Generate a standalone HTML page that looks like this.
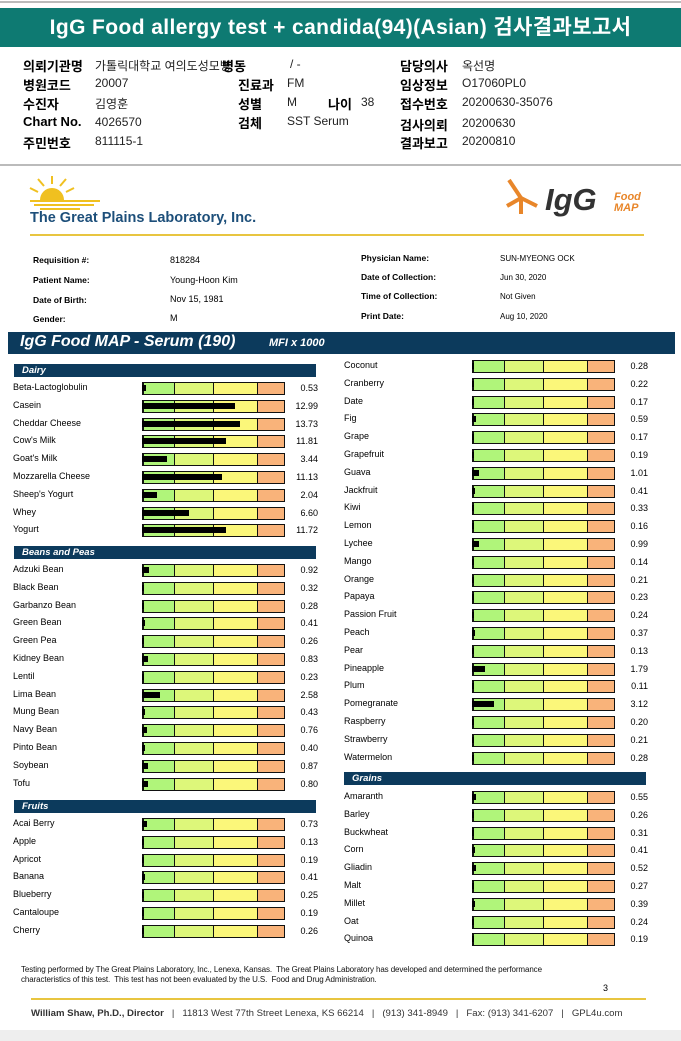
<!DOCTYPE html>
<html><head><meta charset="utf-8">
<style>
*{margin:0;padding:0;box-sizing:border-box}
body{width:681px;height:1041px;background:#fff;position:relative;overflow:hidden;font-family:"Liberation Sans",Arial,sans-serif;color:#000}
.abs{position:absolute;white-space:nowrap}
.k{font-family:"Liberation Sans","Noto Sans CJK KR",sans-serif}
.hl{font-weight:bold;font-size:13px}
.hv{font-size:12px;color:#222}
.rl{font-size:9px}
.rb{font-size:8.5px;font-weight:bold}
.lbl{font-size:9px}
.val{font-size:9px;text-align:right;width:40px}
.cat{background:#0c3a5c;color:#fff;font-weight:bold;font-style:italic;font-size:9.5px;padding-left:8px;line-height:13px;height:13px}
</style></head><body>
<div class="abs" style="left:0;top:1px;width:681px;height:2px;background:#bbb"></div>
<div class="abs k" style="left:0;top:8px;width:681px;height:39px;background:#0e7a72;color:#fff;font-size:21px;font-weight:bold;text-align:center;line-height:39px;letter-spacing:0.4px">IgG Food allergy test + candida(94)(Asian) 검사결과보고서</div>

<div class="abs k hl" style="left:23px;top:56px">의뢰기관명</div>
<div class="abs k hv" style="left:95px;top:57px">가톨릭대학교 여의도성모병</div>
<div class="abs k hl" style="left:222px;top:56px">병동</div>
<div class="abs k hv" style="left:290px;top:57px">/ -</div>
<div class="abs k hl" style="left:400px;top:56px">담당의사</div>
<div class="abs k hv" style="left:462px;top:57px">옥선명</div>

<div class="abs k hl" style="left:23px;top:75px">병원코드</div>
<div class="abs k hv" style="left:95px;top:76px">20007</div>
<div class="abs k hl" style="left:238px;top:75px">진료과</div>
<div class="abs k hv" style="left:287px;top:76px">FM</div>
<div class="abs k hl" style="left:400px;top:75px">임상정보</div>
<div class="abs k hv" style="left:462px;top:76px">O17060PL0</div>

<div class="abs k hl" style="left:23px;top:94px">수진자</div>
<div class="abs k hv" style="left:95px;top:95px">김영훈</div>
<div class="abs k hl" style="left:238px;top:94px">성별</div>
<div class="abs k hv" style="left:287px;top:95px">M</div>
<div class="abs k hl" style="left:328px;top:94px">나이</div>
<div class="abs k hv" style="left:361px;top:95px">38</div>
<div class="abs k hl" style="left:400px;top:94px">접수번호</div>
<div class="abs k hv" style="left:462px;top:95px">20200630-35076</div>

<div class="abs k hl" style="left:23px;top:114px">Chart No.</div>
<div class="abs k hv" style="left:95px;top:115px">4026570</div>
<div class="abs k hl" style="left:238px;top:113px">검체</div>
<div class="abs k hv" style="left:287px;top:114px">SST Serum</div>
<div class="abs k hl" style="left:400px;top:115px">검사의뢰</div>
<div class="abs k hv" style="left:462px;top:116px">20200630</div>

<div class="abs k hl" style="left:23px;top:133px">주민번호</div>
<div class="abs k hv" style="left:95px;top:134px">811115-1</div>
<div class="abs k hl" style="left:400px;top:133px">결과보고</div>
<div class="abs k hv" style="left:462px;top:134px">20200810</div>

<div class="abs" style="left:0;top:164px;width:681px;height:2px;background:#bbb"></div>

<svg class="abs" style="left:28px;top:174px" width="80" height="40">
<path d="M12 26 A12 12 0 0 1 36 26 Z" fill="#f0c020"/>
<g stroke="#f0c020" stroke-width="2"><line x1="24" y1="10" x2="24" y2="2"/><line x1="16" y1="12" x2="10" y2="5"/><line x1="32" y1="12" x2="38" y2="5"/><line x1="10" y1="18" x2="2" y2="14"/><line x1="38" y1="18" x2="46" y2="14"/></g>
<rect x="2" y="26" width="70" height="2" fill="#f0c020"/><rect x="6" y="30" width="60" height="2" fill="#f0c020"/><rect x="12" y="34" width="40" height="2" fill="#f0c020"/>
</svg>
<div class="abs" style="left:30px;top:210px;font-size:14.5px;font-weight:bold;color:#1d4f7a">The Great Plains Laboratory, Inc.</div>
<svg class="abs" style="left:505px;top:176px" width="40" height="42"><g stroke="#e8862a" stroke-width="4" fill="none"><path d="M4 4 L16 22 L16 38"/><path d="M2 30 L16 22 L32 30"/></g></svg>
<div class="abs" style="left:545px;top:182px;font-size:31px;font-weight:bold;font-style:italic;color:#333">IgG</div>
<div class="abs" style="left:614px;top:192px;font-size:11px;font-weight:bold;font-style:italic;color:#e8862a;line-height:11px">Food<br>MAP</div>
<div class="abs" style="left:30px;top:234px;width:614px;height:2px;background:#e8c540"></div>

<div class="abs rb" style="left:33px;top:255px">Requisition #:</div>
<div class="abs rl" style="left:170px;top:255px">818284</div>
<div class="abs rb" style="left:33px;top:275px">Patient Name:</div>
<div class="abs rl" style="left:170px;top:275px">Young-Hoon Kim</div>
<div class="abs rb" style="left:33px;top:295px">Date of Birth:</div>
<div class="abs rl" style="left:170px;top:294px">Nov 15, 1981</div>
<div class="abs rb" style="left:33px;top:314px">Gender:</div>
<div class="abs rl" style="left:170px;top:313px">M</div>
<div class="abs rb" style="left:361px;top:253px">Physician Name:</div>
<div class="abs rl" style="left:500px;top:254px;font-size:8px">SUN-MYEONG OCK</div>
<div class="abs rb" style="left:361px;top:272px">Date of Collection:</div>
<div class="abs rl" style="left:500px;top:273px;font-size:8px">Jun 30, 2020</div>
<div class="abs rb" style="left:361px;top:291px">Time of Collection:</div>
<div class="abs rl" style="left:500px;top:292px;font-size:8px">Not Given</div>
<div class="abs rb" style="left:361px;top:311px">Print Date:</div>
<div class="abs rl" style="left:500px;top:312px;font-size:8px">Aug 10, 2020</div>

<div class="abs" style="left:8px;top:332px;width:667px;height:22px;background:#0c3a5c;color:#fff">
<span style="position:absolute;left:12px;top:1px;font-size:16px;font-weight:bold;font-style:italic">IgG Food MAP - Serum (190)</span>
<span style="position:absolute;left:261px;top:5px;font-size:11px;font-weight:bold;font-style:italic">MFI x 1000</span></div>

<div id="chart"></div>

<div class="abs" style="left:21px;top:965px;font-size:8px;line-height:10px;color:#111;letter-spacing:-0.1px">Testing performed by The Great Plains Laboratory, Inc., Lenexa, Kansas.&nbsp; The Great Plains Laboratory has developed and determined the performance<br>characteristics of this test.&nbsp; This test has not been evaluated by the U.S.&nbsp; Food and Drug Administration.</div>
<div class="abs" style="left:603px;top:983px;font-size:9px">3</div>
<div class="abs" style="left:31px;top:998px;width:615px;height:2px;background:#e8c540"></div>
<div class="abs" style="left:31px;top:1008px;font-size:9.6px;color:#333"><b>William Shaw, Ph.D., Director</b> &nbsp;&nbsp;| &nbsp;&nbsp;11813 West 77th Street Lenexa, KS 66214 &nbsp;&nbsp;| &nbsp;&nbsp;(913) 341-8949 &nbsp;&nbsp;| &nbsp;&nbsp;Fax: (913) 341-6207 &nbsp;&nbsp;| &nbsp;&nbsp;GPL4u.com</div>
<div class="abs" style="left:0;top:1030px;width:681px;height:11px;background:#eee"></div>

<script>
const dairyNames=["Beta-Lactoglobulin","Casein","Cheddar Cheese","Cow's Milk","Goat's Milk","Mozzarella Cheese","Sheep's Yogurt","Whey","Yogurt"];
const dairyValues=[0.53,12.99,13.73,11.81,3.44,11.13,2.04,6.60,11.72];
const beanNames=["Adzuki Bean","Black Bean","Garbanzo Bean","Green Bean","Green Pea","Kidney Bean","Lentil","Lima Bean","Mung Bean","Navy Bean","Pinto Bean","Soybean","Tofu"];
const beanValues=[0.92,0.32,0.28,0.41,0.26,0.83,0.23,2.58,0.43,0.76,0.40,0.87,0.80];
const fruitNamesA=["Acai Berry","Apple","Apricot","Banana","Blueberry","Cantaloupe","Cherry"];
const fruitValuesA=[0.73,0.13,0.19,0.41,0.25,0.19,0.26];
const fruitNamesB=["Coconut","Cranberry","Date","Fig","Grape","Grapefruit","Guava","Jackfruit","Kiwi","Lemon","Lychee","Mango","Orange","Papaya","Passion Fruit","Peach","Pear","Pineapple","Plum","Pomegranate","Raspberry","Strawberry","Watermelon"];
const fruitValuesB=[0.28,0.22,0.17,0.59,0.17,0.19,1.01,0.41,0.33,0.16,0.99,0.14,0.21,0.23,0.24,0.37,0.13,1.79,0.11,3.12,0.20,0.21,0.28];
const grainNames=["Amaranth","Barley","Buckwheat","Corn","Gliadin","Malt","Millet","Oat","Quinoa"];
const grainValues=[0.55,0.26,0.31,0.41,0.52,0.27,0.39,0.24,0.19];

const chart=document.getElementById('chart');
const BOXW=143, PXU=7.15, STEP=17.8;
function xScale(v){return Math.min(BOXW-2,Math.max(1.5,v*PXU));}
function mk(cls,style,text){const d=document.createElement('div');d.className='abs '+cls;d.style.cssText=style;if(text!==undefined)d.textContent=text;chart.appendChild(d);return d;}
function header(x,y,w,t){
  const h=mk('cat','left:'+x+'px;top:'+y+'px;width:'+w+'px',t);
  
  
}
function rows(names,vals,col,y0){
  const lx=col?344:13, bx=col?472:142, vx=col?608:278;
  names.forEach((n,i)=>{
    const cy=y0+i*STEP;
    const l=mk('lbl','left:'+lx+'px;top:'+(cy-6)+'px',n);
    
    
    const b=mk('','left:'+bx+'px;top:'+(cy-6)+'px;width:'+BOXW+'px;height:13px;border:1px solid #111;border-left:2px solid #111;background:linear-gradient(to right,#b0f57a 0 30px,#111 30px 31px,#ddf77a 31px 69px,#111 69px 70px,#fbf77a 70px 113px,#111 113px 114px,#f9b37a 114px)');
    
    
    const f=mk('','left:'+bx+'px;top:'+(cy-3)+'px;width:'+xScale(vals[i])+'px;height:6px;background:#000');
    
    
    const v=mk('val','left:'+vx+'px;top:'+(cy-5)+'px',vals[i].toFixed(2));
    
    
  });
}
header(14,364,302,'Dairy');
rows(dairyNames,dairyValues,0,388);
header(14,546,302,'Beans and Peas');
rows(beanNames,beanValues,0,570);
header(14,800,302,'Fruits');
rows(fruitNamesA,fruitValuesA,0,824);
rows(fruitNamesB,fruitValuesB,1,366);
header(344,772,302,'Grains');
rows(grainNames,grainValues,1,797);
</script>
</body></html>
